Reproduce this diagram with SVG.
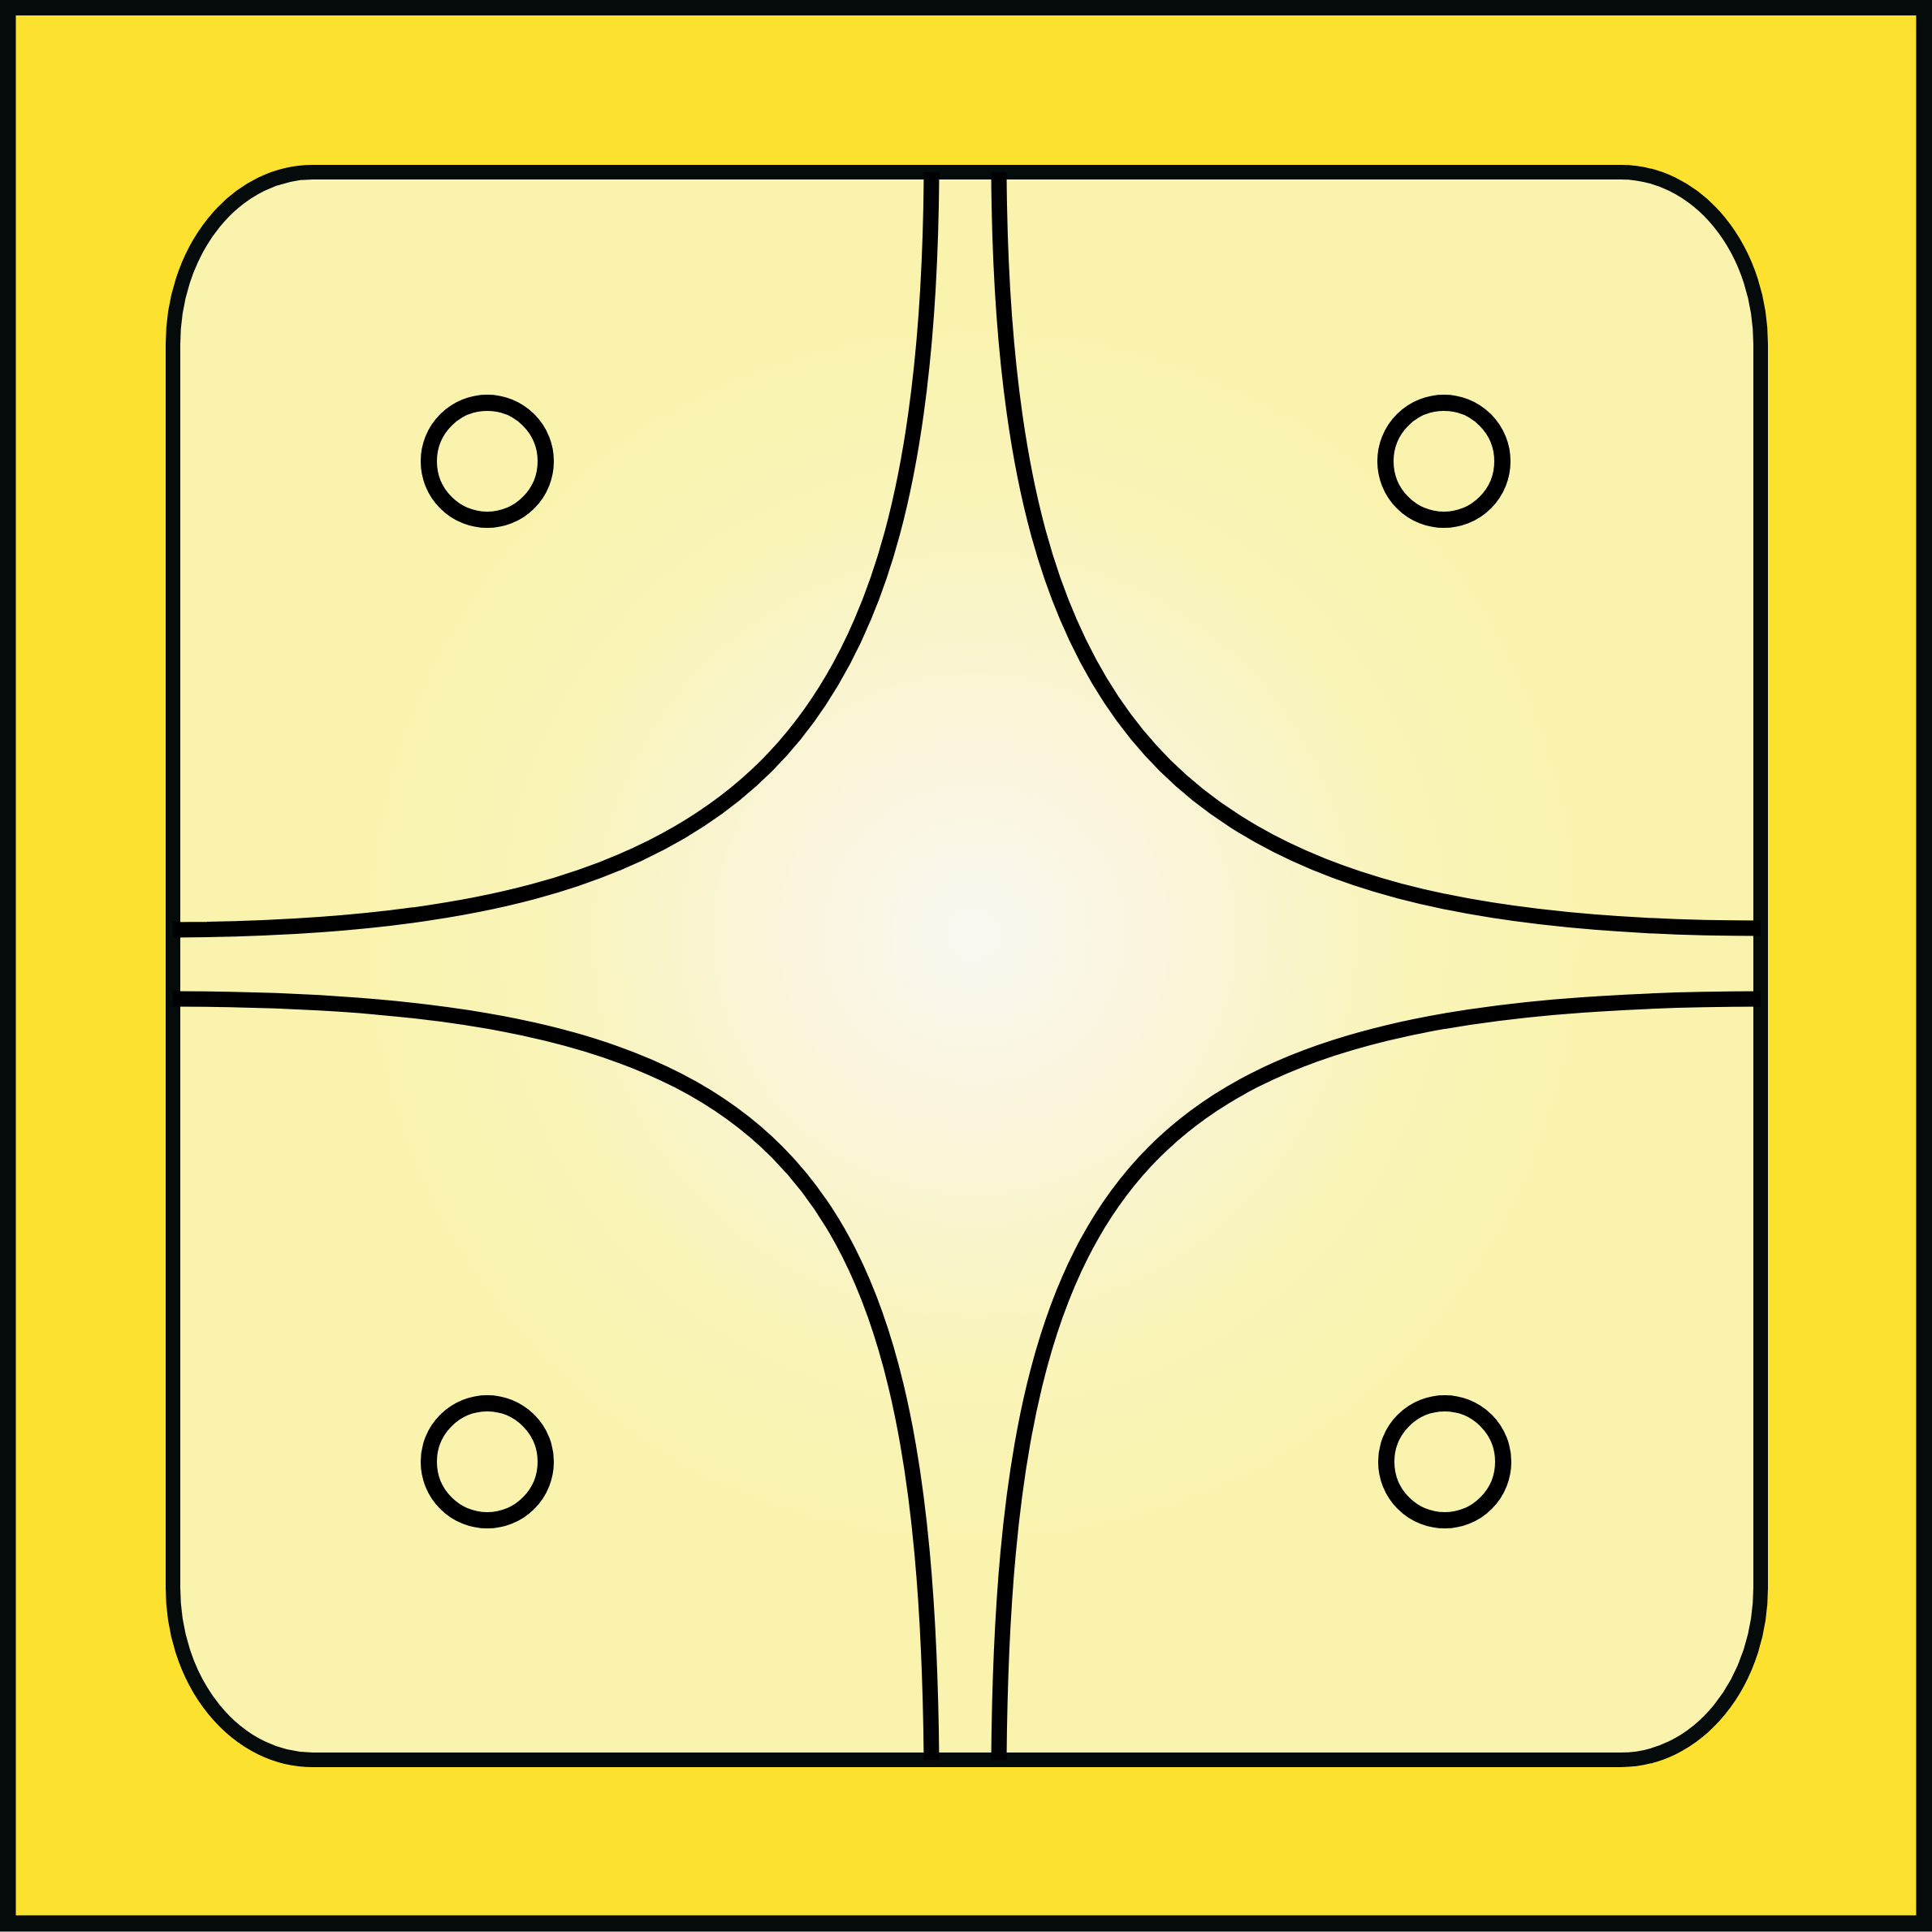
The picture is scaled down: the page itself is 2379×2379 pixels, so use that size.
<svg xmlns="http://www.w3.org/2000/svg" width="2379" height="2379" viewBox="0 0 2379 2379">
  <style>
    .frame { fill: #fce22e; stroke: #050a0a; stroke-width: 20; }
    .panel { fill: url(#glow); stroke: #050a0a; stroke-width: 18; }
    .curve { fill: none; stroke: #000000; stroke-width: 19; stroke-linecap: butt; }
    .hole { fill: none; stroke: #000000; stroke-width: 20; }
  </style>
  <defs>
    <radialGradient id="glow" gradientUnits="userSpaceOnUse" cx="1200" cy="1150" r="760">
      <stop offset="0" stop-color="#fbf8f2"/>
      <stop offset="0.3" stop-color="#faf5dc"/>
      <stop offset="0.7" stop-color="#f9f4b9"/>
      <stop offset="1" stop-color="#f9f3ae"/>
    </radialGradient>
  </defs>
  <g id="frame">
    <rect class="frame" x="9.5" y="9" width="2360" height="2359.5"/>
  </g>
  <g id="panel">
    <rect class="panel" x="213" y="212" width="1955" height="1955" rx="172" ry="212"/>
  </g>
  <g id="connectors">
    <path class="curve" d="M1147,212 C1143,920 920,1143 213,1145"/>
    <path class="curve" d="M1230,212 C1234,920 1460,1143 2168,1143"/>
    <path class="curve" d="M213,1230 C960,1232 1140,1420 1147,2167"/>
    <path class="curve" d="M2168,1230 C1420,1232 1236,1420 1230,2167"/>
  </g>
  <g id="hole-tl"><circle class="hole" cx="600" cy="568" r="72"/></g>
  <g id="hole-tr"><circle class="hole" cx="1778" cy="568" r="72"/></g>
  <g id="hole-bl"><circle class="hole" cx="600" cy="1800" r="72"/></g>
  <g id="hole-br"><circle class="hole" cx="1779" cy="1800" r="72"/></g>
</svg>
